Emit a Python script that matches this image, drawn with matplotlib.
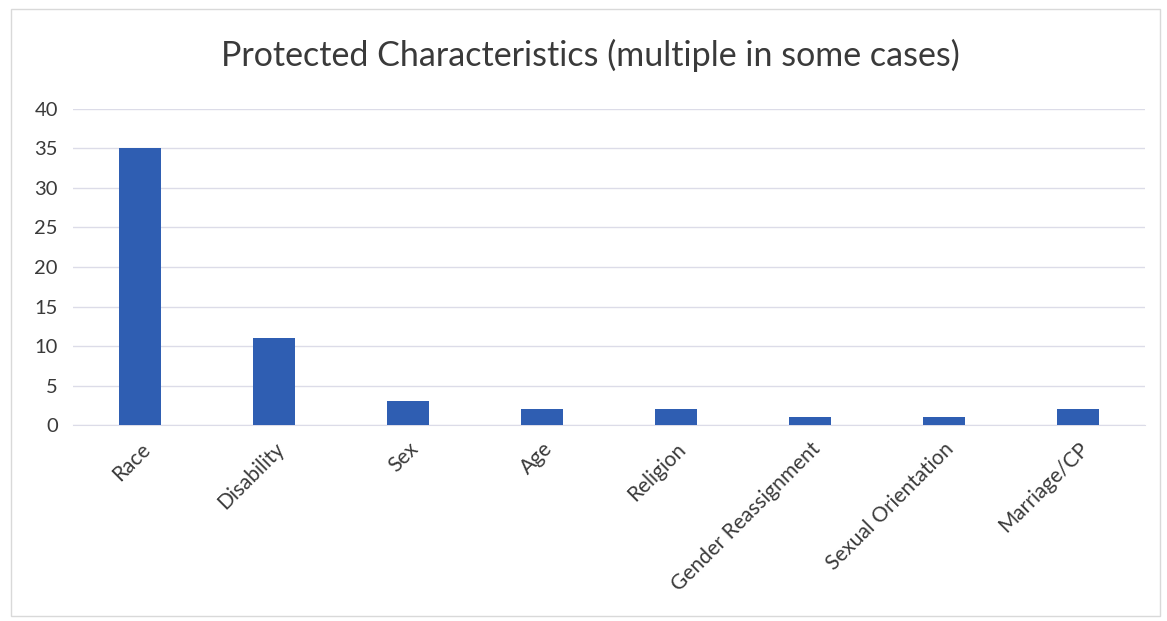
import matplotlib
matplotlib.use("Agg")
import matplotlib.pyplot as plt
from matplotlib.patches import Rectangle

categories = ["Race", "Disability", "Sex", "Age", "Religion",
              "Gender Reassignment", "Sexual Orientation", "Marriage/CP"]
counts = [35, 11, 3, 2, 2, 1, 1, 2]
y_ticks = [0, 5, 10, 15, 20, 25, 30, 35, 40]
title = "Protected Characteristics (multiple in some cases)"

plt.rcParams["font.family"] = ["Lato", "DejaVu Sans"]

fig = plt.figure(figsize=(11.67, 6.21), dpi=100)
ax = fig.add_axes([0.0626, 0.3156, 0.9184, 0.5089])

x = range(len(categories))
ax.bar(x, counts, width=0.31, color="#2F5EB2", zorder=3)

ax.set_xlim(-0.5, len(categories) - 0.5)
ax.set_ylim(0, 40)
ax.set_yticks(y_ticks)
ax.set_yticklabels([str(v) for v in y_ticks], fontsize=14.5, color="#3A3A3A")
ax.set_xticks(list(x))
ax.set_xticklabels(categories, rotation=45, ha="right", rotation_mode="anchor",
                   fontsize=15, color="#3A3A3A")
ax.tick_params(axis="y", length=0, pad=11)
ax.tick_params(axis="x", length=0, pad=10)

ax.grid(axis="y", color="#DCDCE8", linewidth=1.0, zorder=0)
for side in ["top", "right", "left"]:
    ax.spines[side].set_visible(False)
ax.spines["bottom"].set_color("#DCDCE8")

fig.text(0.506, 0.91, title, ha="center", va="center", fontsize=24.5, color="#3A3A3A")

fig.patches.append(Rectangle((0.009, 0.008), 0.985, 0.978, transform=fig.transFigure,
                             fill=False, edgecolor="#D9D9D9", linewidth=1.0))

fig.savefig("out.png", dpi=100)
